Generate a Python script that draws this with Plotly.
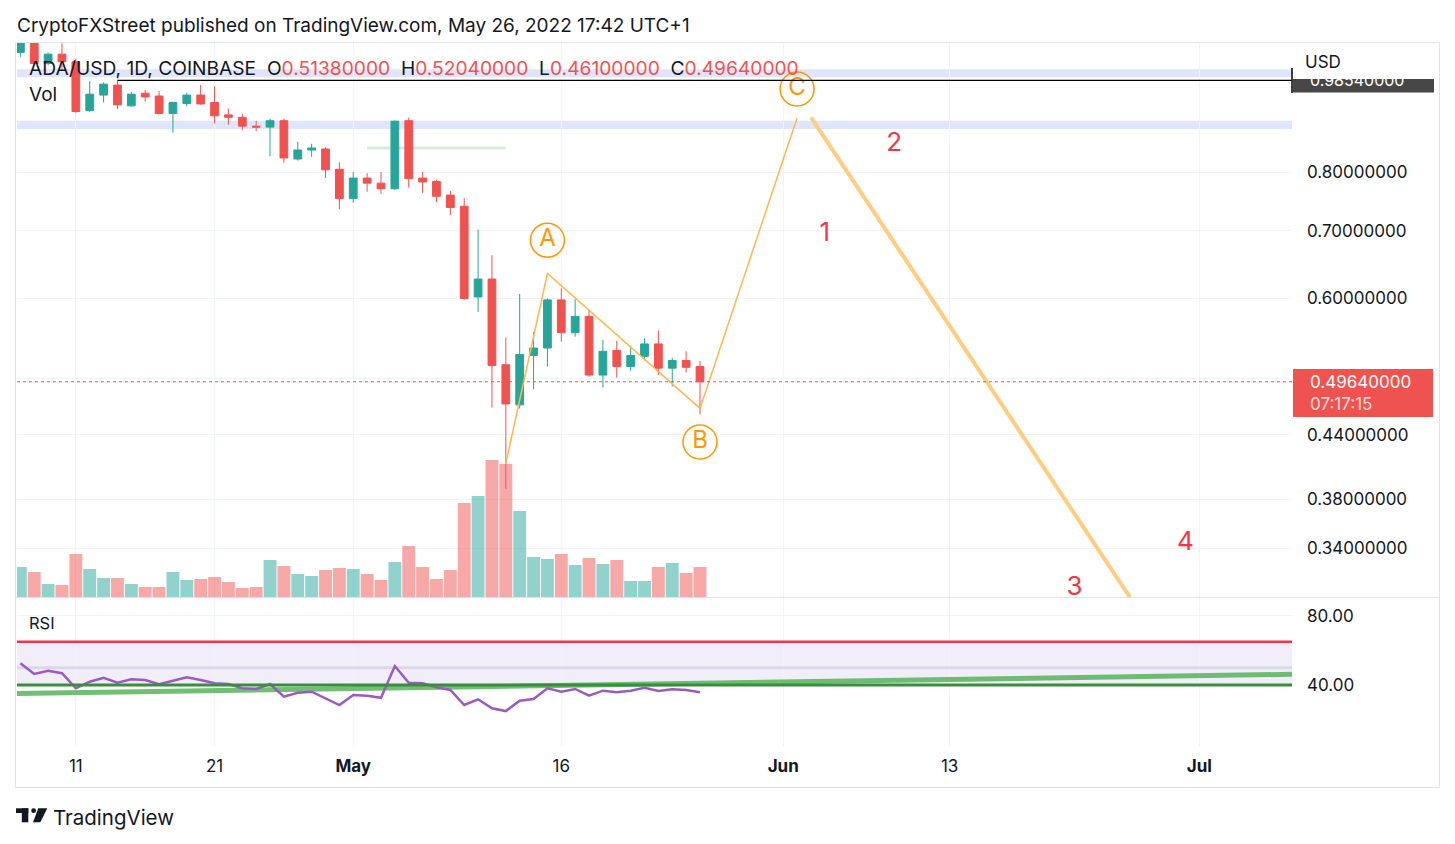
import pandas as pd
import plotly.graph_objects as go

# ---------------- data ----------------
dates = pd.date_range("2022-04-07", "2022-05-26", freq="D")

opens = [1.050, 1.090, 1.024, 1.046, 1.028, 0.920, 0.953, 0.975, 0.930, 0.957,
         0.951, 0.914, 0.935, 0.953, 0.937, 0.911, 0.906, 0.888, 0.886, 0.899,
         0.824, 0.841, 0.843, 0.805, 0.753, 0.789, 0.780, 0.770, 0.899, 0.789,
         0.783, 0.759, 0.740, 0.602, 0.627, 0.516, 0.471, 0.527, 0.536, 0.598,
         0.555, 0.576, 0.504, 0.533, 0.514, 0.526, 0.541, 0.512, 0.521, 0.5138]
highs = [1.100, 1.100, 1.050, 1.072, 1.035, 0.984, 0.981, 0.986, 0.960, 0.964,
         0.962, 0.939, 0.958, 0.975, 0.972, 0.924, 0.913, 0.899, 0.903, 0.903,
         0.857, 0.853, 0.846, 0.818, 0.800, 0.798, 0.800, 0.900, 0.905, 0.800,
         0.786, 0.766, 0.754, 0.702, 0.662, 0.549, 0.606, 0.556, 0.600, 0.614,
         0.599, 0.585, 0.546, 0.545, 0.539, 0.548, 0.558, 0.524, 0.532, 0.5204]
lows = [1.040, 1.020, 1.020, 1.010, 0.915, 0.917, 0.937, 0.923, 0.928, 0.939,
        0.912, 0.875, 0.929, 0.932, 0.893, 0.891, 0.880, 0.878, 0.829, 0.817,
        0.821, 0.828, 0.789, 0.735, 0.746, 0.765, 0.761, 0.768, 0.772, 0.763,
        0.747, 0.725, 0.598, 0.582, 0.468, 0.389, 0.467, 0.488, 0.514, 0.544,
        0.550, 0.502, 0.490, 0.501, 0.509, 0.521, 0.504, 0.491, 0.507, 0.461]
closes = [1.090, 1.024, 1.046, 1.028, 0.918, 0.955, 0.977, 0.932, 0.955, 0.949,
          0.914, 0.937, 0.953, 0.934, 0.909, 0.906, 0.888, 0.886, 0.899, 0.826,
          0.841, 0.845, 0.804, 0.753, 0.789, 0.780, 0.770, 0.898, 0.788, 0.782,
          0.757, 0.738, 0.600, 0.627, 0.515, 0.472, 0.528, 0.536, 0.598, 0.555,
          0.576, 0.504, 0.532, 0.514, 0.527, 0.541, 0.512, 0.521, 0.513, 0.4964]
volumes = [150, 125, 65, 60, 215, 140, 95, 95, 65, 50,
           50, 125, 85, 90, 100, 75, 45, 50, 185, 155,
           115, 105, 135, 145, 140, 115, 85, 175, 255, 150,
           90, 135, 470, 505, 685, 665, 430, 200, 190, 215,
           160, 195, 165, 185, 80, 80, 150, 170, 120, 150]
rsi = [52.6, 46.4, 48.3, 46.8, 38.1, 41.9, 44.2, 41.3, 43.3, 42.9,
       40.4, 42.5, 44.5, 42.9, 41.0, 40.6, 38.1, 37.7, 40.6, 33.2,
       35.5, 36.1, 32.3, 28.4, 34.2, 33.8, 32.6, 51.0, 41.3, 41.0,
       38.7, 37.1, 28.4, 31.7, 26.5, 24.9, 30.9, 31.9, 38.1, 36.1,
       37.7, 33.8, 36.7, 35.8, 36.7, 38.4, 36.5, 37.5, 37.1, 35.8]

# drawings
wave_x = ["2022-05-12", "2022-05-15", "2022-05-26", "2022-06-02"]
wave_y = [0.4123, 0.6352, 0.4672, 0.9046]
proj_x = ["2022-06-03", "2022-06-26"]
proj_y = [0.906, 0.304]
abc_labels = ["A", "B", "C"]
abc_x = ["2022-05-15", "2022-05-26", "2022-06-02"]
abc_y = [0.685, 0.4328, 0.9663]
num_labels = ["1", "2", "3", "4"]
num_x = ["2022-06-04", "2022-06-09", "2022-06-22", "2022-06-30"]
num_y = [0.6947, 0.8507, 0.3104, 0.3439]
bands = [(0.9924, 1.0107), (0.8822, 0.899)]
ray_level = 0.9854
ray_start = "2022-04-14"
green_seg = (["2022-05-02", "2022-05-12"], 0.845)
rsi_trend_x = ["2022-04-06 18:10", "2022-07-07 16:22"]
rsi_trend_y = [35.0, 46.2]
rsi_upper, rsi_mid, rsi_lower = 65, 50, 40
last_price = 0.4964

x_ticks = ["2022-04-11", "2022-04-21", "2022-05-01", "2022-05-16",
           "2022-06-01", "2022-06-13", "2022-07-01"]
x_tick_text = ["11", "21", "<b>May</b>", "16", "<b>Jun</b>", "13", "<b>Jul</b>"]
price_ticks = [0.80, 0.70, 0.60, 0.50, 0.44, 0.38, 0.34]
price_tick_text = ["0.80000000", "0.70000000", "0.60000000", "",
                   "0.44000000", "0.38000000", "0.34000000"]
rsi_ticks = [80, 40]
rsi_tick_text = ["80.00", "40.00"]

# ---------------- style ----------------
UP, DN = "#26a69a", "#ef5350"
FONT = "Inter"
TXT = "#131722"
GRID = "#f0f3fa"

PAGE = 8  # browser body margin
L, R, T, B = 17, 1292, 43, 746
W, H = R - L, B - T


def px(x):
    return (x - L) / W


def py(y):
    return (B - y) / H


price_dom = [py(597), 1]
rsi_dom = [0, py(598)]

fig = go.Figure()

vol_colors = ["rgba(38,166,154,0.5)" if c >= o else "rgba(239,83,80,0.5)"
              for o, c in zip(opens, closes)]
fig.add_trace(go.Bar(x=dates, y=volumes, marker=dict(color=vol_colors, line=dict(width=0)),
                     xaxis="x", yaxis="y2", hoverinfo="skip"))

fig.add_trace(go.Candlestick(
    x=dates, open=opens, high=highs, low=lows, close=closes,
    increasing=dict(line=dict(color=UP, width=1), fillcolor=UP),
    decreasing=dict(line=dict(color=DN, width=1), fillcolor=DN),
    whiskerwidth=0, xaxis="x", yaxis="y"))

# wave lines
fig.add_trace(go.Scatter(x=wave_x, y=wave_y, mode="lines",
                         line=dict(color="#ffb74d", width=1.5), xaxis="x", yaxis="y"))
fig.add_trace(go.Scatter(x=proj_x, y=proj_y, mode="lines",
                         line=dict(color="#ffcc80", width=4), xaxis="x", yaxis="y"))
# circled labels
fig.add_trace(go.Scatter(x=abc_x, y=abc_y, mode="markers+text", text=abc_labels,
                         textposition="middle center",
                         textfont=dict(family=FONT, size=24, color="#ff9800"),
                         marker=dict(size=34, color="rgba(255,255,255,0)",
                                     line=dict(color="#ff9800", width=1.5)),
                         xaxis="x", yaxis="y"))
fig.add_trace(go.Scatter(x=num_x, y=num_y, mode="text", text=num_labels,
                         textfont=dict(family=FONT, size=26, color="#f23645"),
                         xaxis="x", yaxis="y"))

# RSI
fig.add_trace(go.Scatter(x=rsi_trend_x, y=rsi_trend_y, mode="lines",
                         line=dict(color="rgba(76,175,80,0.8)", width=5),
                         xaxis="x2", yaxis="y3"))
fig.add_trace(go.Scatter(x=dates, y=rsi, mode="lines",
                         line=dict(color="#9b59c6", width=2.5),
                         xaxis="x2", yaxis="y3"))

shapes = []
for lo, hi in bands:
    shapes.append(dict(type="rect", xref="paper", yref="y", x0=0, x1=1, y0=lo, y1=hi,
                       fillcolor="#dfe6fc", line=dict(width=0), layer="below"))
shapes.append(dict(type="line", xref="x", yref="y", x0=ray_start, x1="2022-07-07 16:22",
                   y0=ray_level, y1=ray_level, line=dict(color="#000000", width=1.2)))
shapes.append(dict(type="line", xref="x", yref="y", x0=green_seg[0][0], x1=green_seg[0][1],
                   y0=green_seg[1], y1=green_seg[1], line=dict(color="#d5ebd7", width=3),
                   layer="below"))
shapes.append(dict(type="line", xref="paper", yref="y", x0=0, x1=1,
                   y0=last_price, y1=last_price, line=dict(color="#ef5350", width=1, dash="dot")))
# RSI band & lines
shapes.append(dict(type="rect", xref="paper", yref="y3", x0=0, x1=1, y0=rsi_lower, y1=rsi_upper,
                   fillcolor="rgba(126,87,194,0.1)", line=dict(width=0), layer="below"))
shapes.append(dict(type="line", xref="paper", yref="y3", x0=0, x1=1, y0=rsi_mid, y1=rsi_mid,
                   line=dict(color="rgba(120,110,150,0.18)", width=3)))
shapes.append(dict(type="line", xref="paper", yref="y3", x0=0, x1=1, y0=rsi_upper, y1=rsi_upper,
                   line=dict(color="#f23645", width=2.5)))
shapes.append(dict(type="line", xref="paper", yref="y3", x0=0, x1=1, y0=rsi_lower, y1=rsi_lower,
                   line=dict(color="#388e3c", width=3)))
# pane separator & frame
shapes.append(dict(type="line", xref="paper", yref="paper", x0=px(15), x1=px(1440),
                   y0=py(597.5), y1=py(597.5), line=dict(color="#e0e3eb", width=1)))
shapes.append(dict(type="rect", xref="paper", yref="paper", x0=px(15.5), x1=px(1439.5),
                   y0=py(42.5), y1=py(787.5), line=dict(color="#e0e3eb", width=1)))
# right-axis marker for ray
shapes.append(dict(type="line", xref="paper", yref="paper", x0=px(1292), x1=px(1292),
                   y0=py(68), y1=py(93), line=dict(color="#000000", width=1.5)))
shapes.append(dict(type="rect", xref="paper", yref="paper", x0=px(1293), x1=px(1434),
                   y0=py(92.5), y1=py(79), fillcolor="#474747", line=dict(width=0)))
# last price label
shapes.append(dict(type="rect", xref="paper", yref="paper", x0=px(1293), x1=px(1433),
                   y0=py(417), y1=py(369), fillcolor="#ef5350", line=dict(width=0)))
# TradingView logo
shapes.append(dict(type="rect", xref="paper", yref="paper", x0=px(16), x1=px(28.3),
                   y0=py(813), y1=py(808.3), fillcolor=TXT, line=dict(width=0)))
shapes.append(dict(type="rect", xref="paper", yref="paper", x0=px(21.8), x1=px(28.3),
                   y0=py(822.3), y1=py(808.3), fillcolor=TXT, line=dict(width=0)))
shapes.append(dict(type="circle", xref="paper", yref="paper", x0=px(31.2), x1=px(36.0),
                   y0=py(813), y1=py(808.3), fillcolor=TXT, line=dict(width=0)))
logo_pts = [(38.3, 808.3), (47.3, 808.3), (40.3, 822.3), (33.0, 822.3)]
path = "M " + " L ".join(f"{px(a):.5f},{py(b):.5f}" for a, b in logo_pts) + " Z"
shapes.append(dict(type="path", xref="paper", yref="paper", path=path,
                   fillcolor=TXT, line=dict(width=0)))

annotations = []


def txt(x, y, s, size, color=TXT, anchor="left", **kw):
    annotations.append(dict(xref="paper", yref="paper", x=px(x), y=py(y), text=s,
                            showarrow=False, xanchor=anchor, yanchor="middle",
                            font=dict(family=FONT, size=size, color=color), **kw))


txt(15, 25, "CryptoFXStreet published on TradingView.com, May 26, 2022 17:42 UTC+1", 19)
red = lambda v: f"<span style='color:#ef5350'>{v}</span>"
legend = ("ADA/USD, 1D, COINBASE&nbsp;&nbsp;O" + red("0.51380000") + "&nbsp;&nbsp;H" + red("0.52040000")
          + "&nbsp;&nbsp;L" + red("0.46100000") + "&nbsp;&nbsp;C" + red("0.49640000"))
txt(27, 68, legend, 19.2)
txt(27, 95, "Vol", 19)
txt(27, 623, "RSI", 16.5)
txt(1303, 62, "USD", 17)
txt(1308, 80, "0.98540000", 16, color="#ffffff")
txt(1308, 382, "0.49640000", 17, color="#ffffff")
txt(1308, 404, "07:17:15", 17, color="rgba(255,255,255,0.8)")
txt(51, 817, "TradingView", 20.5)

x_range = ["2022-04-06 18:10", "2022-07-07 16:22"]
axis_font = dict(family=FONT, size=17, color=TXT)

fig.update_layout(
    width=1455 - PAGE, height=844 - PAGE,
    margin=dict(l=L - PAGE, r=1455 - R, t=T - PAGE, b=844 - B),
    paper_bgcolor="white", plot_bgcolor="white",
    showlegend=False, bargap=0.07, boxgap=0.2,
    xaxis=dict(domain=[0, 1], anchor="y", range=x_range, type="date",
               rangeslider=dict(visible=False), tickvals=x_ticks, ticktext=x_tick_text,
               showticklabels=False, showgrid=True, gridcolor=GRID, zeroline=False,
               showline=False),
    yaxis=dict(domain=price_dom, anchor="x", type="log", side="right",
               range=[-0.51687, 0.03056], tickvals=price_ticks, ticktext=price_tick_text,
               showgrid=True, gridcolor=GRID, zeroline=False, showline=False,
               ticks="", tickfont=axis_font, ticklabelstandoff=14),
    yaxis2=dict(domain=price_dom, anchor="x", overlaying="y", range=[0, 2770],
                showgrid=False, showticklabels=False, zeroline=False, showline=False),
    xaxis2=dict(domain=[0, 1], anchor="y3", range=x_range, type="date", matches="x",
                tickvals=x_ticks, ticktext=x_tick_text, showgrid=True, gridcolor=GRID,
                zeroline=False, showline=False, ticks="", tickfont=axis_font,
                ticklabelstandoff=8),
    yaxis3=dict(domain=rsi_dom, anchor="x2", side="right", range=[4.64, 90.43],
                tickvals=rsi_ticks, ticktext=rsi_tick_text, showgrid=True, gridcolor=GRID,
                zeroline=False, showline=False, ticks="", tickfont=axis_font,
                ticklabelstandoff=14),
    shapes=shapes, annotations=annotations,
)

fig.write_html("out.html")
